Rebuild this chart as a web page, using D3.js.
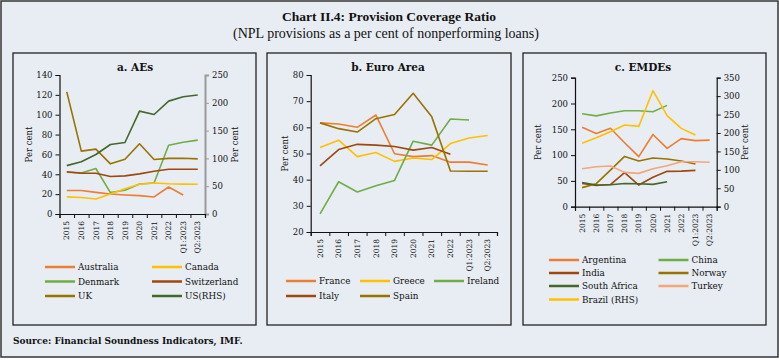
<!DOCTYPE html>
<html><head><meta charset="utf-8">
<script src="https://cdn.jsdelivr.net/npm/d3@7"></script>
<style>
body{margin:0;padding:0;background:#fff;}
svg{display:block;}
</style></head>
<body>
<svg id="chart" width="779" height="360"></svg>
<script>
const categories = ["2015","2016","2017","2018","2019","2020","2021","2022","Q1:2023","Q2:2023"];

// Panel a: AEs
const australia   = [23.7, 23.7, 21.8, 20.1, 19.2, 18.5, 17.2, 27.2, 19.2, null];
const canada      = [17.2, 16.6, 15.1, 20.2, 25.4, 30.0, 31.2, 30.4, 30.1, 30.0];
const denmark     = [42.0, 41.4, 45.8, 21.6, 24.0, 30.2, 31.2, 69.3, 72.3, 74.4];
const switzerland = [42.5, 41.0, 41.0, 37.7, 38.4, 40.4, 43.1, 45.0, 45.0, 45.0];
const uk          = [123, 63.3, 65.3, 50.5, 55.2, 70.7, 54.9, 56.0, 56.2, 55.5];
const usRHS       = [87, 94, 107, 125, 128.6, 185, 179, 203, 211, 214];
const ticksA = [0, 20, 40, 60, 80, 100, 120, 140];
const ticksARight = [0, 50, 100, 150, 200, 250];

// Panel b: Euro Area
const france  = [61.7, 61.3, 60.0, 64.7, 49.9, 48.8, 49.2, 46.7, 46.7, 45.6];
const greece  = [52.3, 55.1, 48.8, 50.4, 47.0, 48.3, 47.7, 53.8, 55.9, 56.9];
const ireland = [26.9, 39.2, 35.3, 37.7, 39.7, 54.7, 53.2, 63.2, 62.8, null];
const italy   = [45.3, 51.5, 53.5, 53.2, 52.7, 51.3, 52.3, 49.7, null, null];
const spain   = [61.7, 59.5, 58.2, 63.3, 64.9, 73.0, 64.0, 43.3, 43.2, 43.2];
const ticksB = [20, 30, 40, 50, 60, 70, 80];

// Panel c: EMDEs
const argentina   = [154, 142, 152, 124, 97, 140, 113, 132, 128, 129];
const china       = [180, 176, 181.6, 186, 186, 184, 196.4, null, null, null];
const india       = [45, 41, 43, 66, 42, 57, 68.5, 69, 70.4, null];
const norway      = [37, 44.6, 71, 97.5, 88.5, 94.3, 92.4, 88.5, 82.7, null];
const southAfrica = [47, 42, 42.6, 45, 44.6, 43.3, 48.4, null, null, null];
const turkey      = [73.6, 77.5, 78.8, 66.5, 64.6, 73.6, 79.5, 87, 87, 86];
const brazilRHS   = [172, 187, 203.5, 221.6, 218, 314.7, 247, 212.5, 194.4, null];
const ticksC = [0, 50, 100, 150, 200, 250];
const ticksCRight = [0, 50, 100, 150, 200, 250, 300, 350];

const C = {
  orange:"#ED7D31", yellow:"#FFC000", green:"#70AD47", brown:"#9E480E",
  olive:"#997300", dkgreen:"#43682B", ltorange:"#F4A57A"
};
const BG = "#e8edf3";
const SERIF = "'DejaVu Serif', serif";

const svg = d3.select("#chart");
svg.append("rect").attr("x",1).attr("y",1).attr("width",777).attr("height",356)
  .attr("fill",BG).attr("stroke","#333").attr("stroke-width",1.5);

svg.append("text").attr("x",389).attr("y",21).attr("text-anchor","middle")
  .attr("font-family","'Liberation Serif', serif").attr("font-weight","bold").attr("font-size",13.5)
  .attr("fill","#111").text("Chart II.4: Provision Coverage Ratio");
svg.append("text").attr("x",386).attr("y",38).attr("text-anchor","middle")
  .attr("font-family","'Liberation Serif', serif").attr("font-size",14)
  .attr("fill","#111").text("(NPL provisions as a per cent of nonperforming loans)");

svg.append("text").attr("x",13).attr("y",344)
  .attr("font-family",SERIF).attr("font-weight","bold").attr("font-size",9)
  .attr("fill","#111").text("Source: Financial Soundness Indicators, IMF.");

function panel(cfg){
  const g = svg.append("g");
  g.append("rect").attr("x",cfg.box[0]).attr("y",53).attr("width",cfg.box[1]-cfg.box[0]).attr("height",272)
    .attr("fill",BG).attr("stroke","#222").attr("stroke-width",1.3);
  g.append("text").attr("x",cfg.titleX).attr("y",71).attr("text-anchor","middle")
    .attr("font-family",SERIF).attr("font-weight","bold").attr("font-size",10.5).attr("fill","#111").text(cfg.title);

  const x = d3.scaleBand().domain(categories).range([cfg.x0,cfg.x1]).paddingInner(0).paddingOuter(0);
  const y = d3.scaleLinear().domain(cfg.yDom).range([cfg.yb,cfg.yt]);
  const yR = cfg.yRDom ? d3.scaleLinear().domain(cfg.yRDom).range([cfg.yb,cfg.yt]) : null;

  // left axis
  const la = g.append("g").attr("transform",`translate(${cfg.x0},0)`)
    .call(d3.axisLeft(y).tickValues(cfg.ticks).tickSize(4).tickPadding(3).tickFormat(d3.format("d")));
  la.select(".domain").attr("stroke","#111").attr("stroke-width",1.2);
  la.selectAll(".tick line").attr("stroke","#111");
  la.selectAll("text").attr("font-family",SERIF).attr("font-size",8.5).attr("fill","#111");
  g.append("text").attr("transform",`translate(${cfg.yLabX},${(cfg.yb+cfg.yt)/2}) rotate(-90)`)
    .attr("text-anchor","middle").attr("font-family",SERIF).attr("font-size",8.5).attr("fill","#111").text("Per cent");

  if (yR){
    const ra = g.append("g").attr("transform",`translate(${cfg.x1},0)`)
      .call(d3.axisRight(yR).tickValues(cfg.ticksR).tickSize(4).tickPadding(3).tickFormat(d3.format("d")));
    ra.select(".domain").attr("stroke",cfg.rColor).attr("stroke-width",cfg.rWidth);
    ra.selectAll(".tick line").attr("stroke",cfg.rColor);
    ra.selectAll("text").attr("font-family",SERIF).attr("font-size",8.5).attr("fill","#111");
    g.append("text").attr("transform",`translate(${cfg.yRLabX},${(cfg.yb+cfg.yt)/2}) rotate(-90)`)
      .attr("text-anchor","middle").attr("font-family",SERIF).attr("font-size",8.5).attr("fill","#111").text("Per cent");
  }

  // bottom axis: tick marks at band boundaries
  const edge = d3.scaleLinear().domain([0,categories.length]).range([cfg.x0,cfg.x1]);
  const ba = g.append("g").attr("transform",`translate(0,${cfg.yb})`)
    .call(d3.axisBottom(edge).tickValues(d3.range(categories.length+1)).tickSize(4).tickFormat(""));
  ba.select(".domain").attr("stroke","#111").attr("stroke-width",1.2);
  ba.selectAll(".tick line").attr("stroke","#111");
  const bl = g.append("g").attr("transform",`translate(0,${cfg.yb})`)
    .call(d3.axisBottom(x).tickSize(0).tickPadding(0));
  bl.select(".domain").remove();
  bl.selectAll("text").attr("font-family",SERIF).attr("font-size",7.5).attr("fill","#111")
    .attr("transform","translate(0,7) rotate(-90)").attr("text-anchor","end").attr("dy","0.35em").attr("y",0).attr("x",0);

  // series
  cfg.series.forEach(s=>{
    const sc = s.right ? yR : y;
    const line = d3.line().defined(d=>d!=null)
      .x((d,i)=>x(categories[i])+x.bandwidth()/2).y(d=>sc(d));
    g.append("path").datum(s.data).attr("d",line).attr("fill","none")
      .attr("stroke",s.color).attr("stroke-width",1.6).attr("stroke-linejoin","round");
  });

  // legend
  cfg.legend.forEach(l=>{
    const s = cfg.series.find(q=>q.name===l.name);
    g.append("line").attr("x1",l.x).attr("x2",l.x+30).attr("y1",l.y).attr("y2",l.y)
      .attr("stroke",s.color).attr("stroke-width",2.5);
    g.append("text").attr("x",l.x+33).attr("y",l.y).attr("dy","0.35em")
      .attr("font-family",SERIF).attr("font-size",8.8).attr("fill","#111").text(s.label||s.name);
  });
}

panel({
  box:[13,256], title:"a. AEs", titleX:135,
  x0:59.5, x1:205, yt:75, yb:214, yDom:[0,140], ticks:ticksA,
  yRDom:[0,250], ticksR:ticksARight, rColor:"#999", rWidth:2,
  yLabX:32, yRLabX:238,
  series:[
    {name:"Denmark", data:denmark, color:C.green},
    {name:"Switzerland", data:switzerland, color:C.brown},
    {name:"Australia", data:australia, color:C.orange},
    {name:"Canada", data:canada, color:C.yellow},
    {name:"UK", data:uk, color:C.olive},
    {name:"US(RHS)", data:usRHS, color:C.dkgreen, right:true}
  ],
  legend:[
    {name:"Australia", x:45, y:267},{name:"Canada", x:152, y:267},
    {name:"Denmark", x:45, y:281.5},{name:"Switzerland", x:152, y:281.5},
    {name:"UK", x:45, y:296},{name:"US(RHS)", x:152, y:296}
  ]
});

panel({
  box:[267,511], title:"b. Euro Area", titleX:388,
  x0:310.7, x1:497, yt:75, yb:232, yDom:[20,80], ticks:ticksB,
  yLabX:288,
  series:[
    {name:"France", data:france, color:C.orange},
    {name:"Greece", data:greece, color:C.yellow},
    {name:"Ireland", data:ireland, color:C.green},
    {name:"Italy", data:italy, color:C.brown},
    {name:"Spain", data:spain, color:C.olive}
  ],
  legend:[
    {name:"France", x:286, y:281},{name:"Greece", x:360, y:281},{name:"Ireland", x:434, y:281},
    {name:"Italy", x:286, y:296},{name:"Spain", x:360, y:296}
  ]
});

panel({
  box:[523,766], title:"c. EMDEs", titleX:643,
  x0:575, x1:716.7, yt:77.7, yb:206.7, yDom:[0,250], ticks:ticksC,
  yRDom:[0,350], ticksR:ticksCRight, rColor:"#111", rWidth:1.2,
  yLabX:541, yRLabX:748,
  series:[
    {name:"Argentina", data:argentina, color:C.orange},
    {name:"China", data:china, color:C.green},
    {name:"India", data:india, color:C.brown},
    {name:"Norway", data:norway, color:C.olive},
    {name:"South Africa", data:southAfrica, color:C.dkgreen},
    {name:"Turkey", data:turkey, color:C.ltorange},
    {name:"Brazil (RHS)", data:brazilRHS, color:C.yellow, right:true}
  ],
  legend:[
    {name:"Argentina", x:549, y:260},{name:"China", x:658.5, y:260},
    {name:"India", x:549, y:273},{name:"Norway", x:658.5, y:273},
    {name:"South Africa", x:549, y:286},{name:"Turkey", x:658.5, y:286},
    {name:"Brazil (RHS)", x:549, y:299.5}
  ]
});
</script>
</body></html>
